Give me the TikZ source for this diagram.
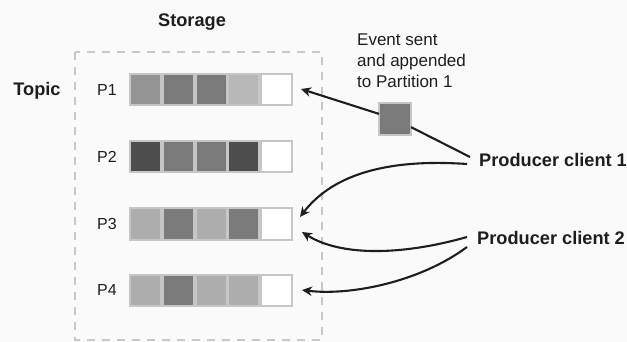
\documentclass[tikz,border=0pt]{standalone}
\usepackage{fontspec}
\setmainfont{Liberation Sans}
\usetikzlibrary{arrows.meta}
\definecolor{bg}{HTML}{FAFAFA}
\definecolor{cellborder}{HTML}{C6C6C6}
\definecolor{gA}{HTML}{4D4D4D}
\definecolor{gB}{HTML}{7A7A7A}
\definecolor{gC}{HTML}{959595}
\definecolor{gD}{HTML}{ADADAD}
\definecolor{gE}{HTML}{B8B8B8}
\definecolor{dashc}{HTML}{C8C8C8}
\definecolor{ink}{HTML}{1E1E1E}
\tikzset{
  cell/.style={draw=cellborder, line width=2pt, minimum size=31pt, inner sep=0pt, outer sep=0pt},
  plabel/.style={font=\fontsize{16}{18}\selectfont, text=ink},
  boldlabel/.style={font=\fontsize{18.2}{20}\selectfont\bfseries, text=ink},
  conn/.style={draw=ink, line width=2.1pt},
  arr/.style={conn, -{Stealth[length=10pt,width=9.5pt]}},
}
\begin{document}
\begin{tikzpicture}[x=1pt,y=-1pt]
\fill[bg] (0,0) rectangle (627,342);
\useasboundingbox (0,0) rectangle (627,342);
% storage box
\draw[dashc, line width=2pt, dash pattern=on 8pt off 7pt] (75,52) rectangle (322,340);
\node[boldlabel] (storage) at (192,22) {Storage};
\node[boldlabel] (topic) at (37,91) {Topic};
% rows
\foreach \r/\y/\ca/\cb/\cc/\cd in {1/90/gC/gB/gB/gE, 2/157/gA/gB/gB/gA, 3/224/gD/gB/gD/gB, 4/290/gD/gB/gD/gD}{
  \node[plabel] (lab\r) at (107,\y) {P\r};
  \node[cell, fill=\ca] (r\r c1) at (145.4,\y) {};
  \node[cell, fill=\cb] (r\r c2) at (178.2,\y) {};
  \node[cell, fill=\cc] (r\r c3) at (211.0,\y) {};
  \node[cell, fill=\cd] (r\r c4) at (243.8,\y) {};
  \node[cell, fill=white] (r\r c5) at (276.6,\y) {};
}
% event
\node[cell, fill=gB, minimum size=32pt] (event) at (395,119) {};
\node[anchor=base west, align=left, font=\fontsize{17}{21}\selectfont, text=ink, inner sep=0pt] (evtext) at (357,88) {Event sent\\and appended\\to Partition 1};
% producers
\node[boldlabel, anchor=west, inner sep=0pt] (pc1) at (479,160) {Producer client 1};
\node[boldlabel, anchor=west, inner sep=0pt] (pc2) at (477,238) {Producer client 2};
\coordinate (pc1a) at (470,157);
\coordinate (pc1b) at (467,164);
\coordinate (pc2a) at (467,237);
\coordinate (pc2b) at (467,247);
\coordinate (t1) at (301,89);
\coordinate (t3a) at (300,217);
\coordinate (t3b) at (302,232);
\coordinate (t4) at (302,290);
% connectors
\draw[conn] (pc1a) -- (event);
\draw[arr] (event) -- (t1);
\draw[arr] (pc1b) .. controls (380,158) and (330,178) .. (t3a);
\draw[arr] (pc2a) .. controls (400,256) and (340,256) .. (t3b);
\draw[arr] (pc2b) .. controls (420,282) and (350,296) .. (t4);
\end{tikzpicture}
\end{document}
